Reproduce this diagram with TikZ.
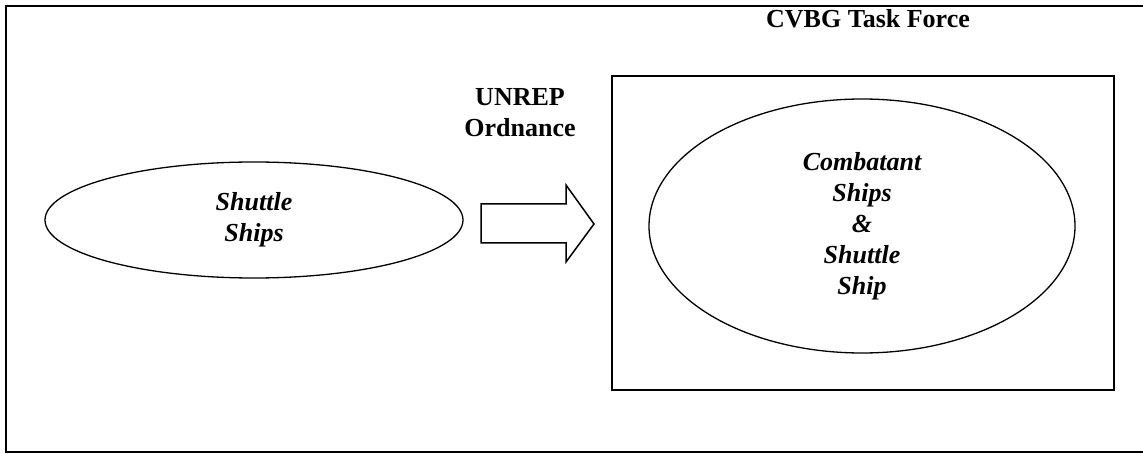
\documentclass[tikz,border=0pt]{standalone}
\usepackage{fontspec}
\setmainfont{Liberation Serif}
\usetikzlibrary{shapes.geometric}
\begin{document}
\begin{tikzpicture}
[x=1pt,y=-1pt,
  framedecorate/.style={draw,line width=2pt},%
  ovaldecorate/.style={shape=ellipse,draw,line width=1.3pt,inner sep=0pt,
    align=center,font=\fontsize{26}{31}\selectfont\bfseries\itshape},%
  labeldecorate/.style={inner sep=0pt,align=center,
    font=\fontsize{26}{31}\selectfont\bfseries},%
  blockarrow/.style={draw,line width=1.5pt,line join=miter}]
\useasboundingbox (0,0) rectangle (1143,454);
%% outer frame and task force box
\draw[framedecorate] (1146,6) -- (6,6) -- (6,452) -- (1146,452);
\node (force) at (611,75) [framedecorate,anchor=north west,inner sep=0pt,
  minimum width=502,minimum height=314] {};
\node (forcetitle) at (868,28) [labeldecorate,anchor=base] {CVBG Task Force};
%% ellipses
\node (shuttle) at (254,220) [ovaldecorate,minimum width=418,minimum height=116]
  {Shuttle\\Ships};
\node (combat) at (862,226) [ovaldecorate,minimum width=426,minimum height=254]
  {Combatant\\Ships\\\&\\Shuttle\\Ship};
%% replenishment arrow
\node (unrep) at (520,113) [labeldecorate] {UNREP\\Ordnance};
\draw[blockarrow] (481,204) -- (566,204) -- (566,185) -- (594,224)
  -- (566,262) -- (566,243) -- (481,243) -- cycle;
\end{tikzpicture}
\end{document}
